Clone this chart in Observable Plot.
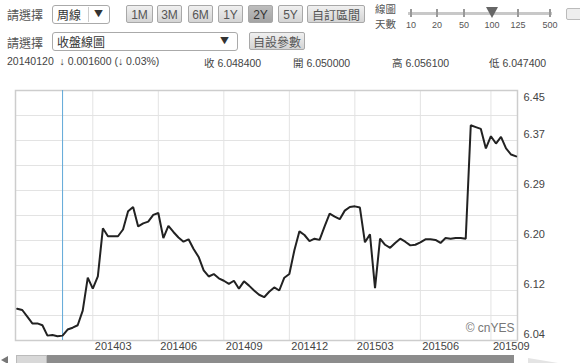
<!DOCTYPE html>
<html><head><meta charset="utf-8">
<script src="https://cdn.jsdelivr.net/npm/d3@7"></script>
<script src="https://cdn.jsdelivr.net/npm/@observablehq/plot@0.6"></script>
<style>
html,body{margin:0;padding:0;background:#fff;}
#wrap{position:relative;width:580px;height:363px;overflow:hidden;font-family:"Liberation Sans",Arial,"Noto Sans CJK TC",sans-serif;color:#444;}
.abs{position:absolute;white-space:nowrap;}
.lbl{font-family:"Noto Sans CJK TC",sans-serif;font-size:12px;color:#555;}
.btn{position:absolute;top:5px;height:18px;line-height:18px;text-align:center;font-size:12px;color:#555;border:1px solid #a8a8a8;border-radius:2px;background:linear-gradient(#f0f0f0,#d4d4d4);box-sizing:border-box;}
.btn.on{background:linear-gradient(#bdbdbd,#a4a4a4);color:#333;}
.sel{position:absolute;border:1px solid #aaa;border-radius:3px;background:#fff;box-sizing:border-box;font-family:"Noto Sans CJK TC",sans-serif;font-size:12px;color:#333;}
.info{position:absolute;top:55px;font-size:10.5px;color:#444;}
.tk{position:absolute;top:9px;width:2px;height:8px;background:#999;}
.tl{position:absolute;top:20px;font-size:9px;color:#555;transform:translateX(-50%);}
#chart{position:absolute;left:0;top:80px;}
</style></head>
<body><div id="wrap">
<div class="abs lbl" style="left:7px;top:6px;">請選擇</div>
<div class="sel" style="left:52px;top:5px;width:58px;height:19px;"><span style="position:absolute;left:4px;top:0px;">周線</span><span style="position:absolute;left:35px;top:1px;bottom:1px;border-left:1px solid #ccc;"></span><span style="position:absolute;left:41px;top:1px;font-size:9px;">▼</span></div>
<div class="btn" style="left:126px;width:27px;">1M</div>
<div class="btn" style="left:157px;width:25px;">3M</div>
<div class="btn" style="left:188px;width:25px;">6M</div>
<div class="btn" style="left:218px;width:25px;">1Y</div>
<div class="btn on" style="left:248px;width:25px;">2Y</div>
<div class="btn" style="left:278px;width:25px;">5Y</div>
<div class="btn" style="left:307px;width:58px;font-family:'Noto Sans CJK TC',sans-serif;">自訂區間</div>
<div class="abs lbl" style="left:375px;top:2px;line-height:14px;font-size:10.5px;">線圖</div>
<div class="abs lbl" style="left:375px;top:17px;line-height:14px;font-size:10.5px;">天數</div>
<div class="abs" style="left:408px;top:12px;width:144px;height:3px;background:#c8c8c8;"></div>
<div class="tk" style="left:410px;"></div><div class="tk" style="left:436px;"></div><div class="tk" style="left:463px;"></div><div class="tk" style="left:517px;"></div><div class="tk" style="left:549px;"></div>
<div class="abs" style="left:486px;top:7px;width:0;height:0;border-left:6px solid transparent;border-right:6px solid transparent;border-top:11px solid #666;"></div>
<div class="tl" style="left:411px;">10</div><div class="tl" style="left:437px;">20</div><div class="tl" style="left:464px;">50</div><div class="tl" style="left:492px;">100</div><div class="tl" style="left:518px;">125</div><div class="tl" style="left:550px;">500</div>
<div class="abs" style="left:566px;top:8px;width:14px;height:10px;border:1px solid #bbb;border-radius:2px;background:#eee;"></div>
<div class="abs lbl" style="left:7px;top:34px;">請選擇</div>
<div class="sel" style="left:52px;top:32px;width:186px;height:19px;"><span style="position:absolute;left:4px;top:0px;">收盤線圖</span><span style="position:absolute;left:167px;top:1px;font-size:9px;">▼</span></div>
<div class="btn" style="left:249px;top:32px;width:56px;font-family:'Noto Sans CJK TC',sans-serif;">自設參數</div>
<div class="info" style="left:7px;">20140120 &nbsp;↓ 0.001600 (↓ 0.03%)</div>
<div class="info" style="left:204px;">收 6.048400</div>
<div class="info" style="left:293px;">開 6.050000</div>
<div class="info" style="left:392px;">高 6.056100</div>
<div class="info" style="left:489px;">低 6.047400</div>
<div id="chart"></div>
<div class="abs" style="left:1px;top:356px;width:0;height:0;border-top:4px solid transparent;border-bottom:4px solid transparent;border-right:7px solid #777;"></div>
<div class="abs" style="left:16px;top:355px;width:31px;height:10px;background:#d8d8d8;border:1px solid #bbb;box-sizing:border-box;"></div>
<div class="abs" style="left:47px;top:355px;width:467px;height:10px;background:#8c8c8c;"></div>
<div class="abs" style="left:528px;top:358px;width:0;height:0;border-top:5px solid transparent;border-bottom:5px solid transparent;border-left:30px solid #e4e4e4;"></div>
</div>
<script>
// weekly closes, first week starting 2013-11-18
const startWeek = "2013-11-18";
const values = [
6.092,6.090,6.079,6.068,6.068,6.065,6.048,6.049,6.047,6.048,
6.058,6.061,6.065,6.089,6.143,6.125,6.145,6.224,6.211,6.211,
6.211,6.222,6.252,6.259,6.227,6.232,6.235,6.246,6.249,6.208,
6.228,6.218,6.209,6.202,6.206,6.190,6.177,6.155,6.145,6.149,
6.142,6.138,6.133,6.138,6.125,6.137,6.130,6.122,6.115,6.111,
6.120,6.127,6.122,6.143,6.149,6.188,6.219,6.213,6.203,6.207,
6.205,6.227,6.248,6.243,6.239,6.253,6.259,6.260,6.258,6.201,
6.214,6.126,6.207,6.197,6.192,6.200,6.207,6.202,6.196,6.197,
6.201,6.206,6.206,6.205,6.200,6.208,6.207,6.208,6.208,6.207,
6.393,6.390,6.387,6.355,6.375,6.363,6.374,6.355,6.345,6.342];
const cursorDate = "2014-01-20";
const xTickDates = ["2014-03-03","2014-06-02","2014-09-01","2014-12-01","2015-03-02","2015-06-01","2015-09-07"];
const xTickLabels = ["201403","201406","201409","201412","201503","201506","201509"];
const yGrid = [6.04,6.081,6.122,6.163,6.204,6.245,6.286,6.327,6.368,6.409,6.45];
const yLabelTicks = [6.04,6.122,6.204,6.286,6.368];
const yTopTick = [6.45];
const yDomain = [6.04, 6.45];

const t0 = new Date(startWeek + "T00:00:00Z");
const data = values.map((v, i) => ({date: d3.utcDay.offset(t0, 7 * i), value: v}));
const xDomain = [d3.utcHour.offset(t0, -57), d3.utcHour.offset(data[data.length - 1].date, 46)];
const tickDates = xTickDates.map(s => new Date(s + "T00:00:00Z"));
const fmt = d3.format(".2f");

const chart = Plot.plot({
  width: 580, height: 275,
  marginLeft: 15, marginRight: 63, marginTop: 10, marginBottom: 15,
  style: {fontFamily: "'Liberation Sans', Arial, sans-serif", fontSize: "11px", color: "#444", background: "transparent"},
  x: {type: "utc", domain: xDomain, axis: null},
  y: {domain: yDomain, axis: null},
  marks: [
    Plot.ruleY(yGrid, {stroke: "#e3e3e3", strokeWidth: 1}),
    Plot.ruleX(tickDates, {stroke: "#e3e3e3", strokeWidth: 1}),
    Plot.frame({stroke: "#cdcdcd", strokeWidth: 1.5}),
    Plot.ruleX([new Date(cursorDate + "T00:00:00Z")], {stroke: "#5fa8d8", strokeWidth: 1}),
    Plot.lineY(data, {x: "date", y: "value", stroke: "#222", strokeWidth: 2, strokeLinejoin: "miter"}),
    Plot.text(yLabelTicks, {y: d => d, text: d => fmt(d), frameAnchor: "right", textAnchor: "start", dx: 6, dy: -6, fill: "#444"}),
    Plot.text(yTopTick, {y: d => d, text: d => fmt(d), frameAnchor: "right", textAnchor: "start", dx: 6, dy: 7, fill: "#444"}),
    Plot.text(tickDates, {x: d => d, text: (d, i) => xTickLabels[i], frameAnchor: "bottom", textAnchor: "start", dx: 2, dy: 9, fill: "#444"}),
    Plot.text(["© cnYES"], {text: d => d, frameAnchor: "bottom-right", textAnchor: "end", dx: -3, dy: -9, fill: "#777", fontSize: 12})
  ]
});
document.getElementById("chart").appendChild(chart);
</script>
</body></html>
